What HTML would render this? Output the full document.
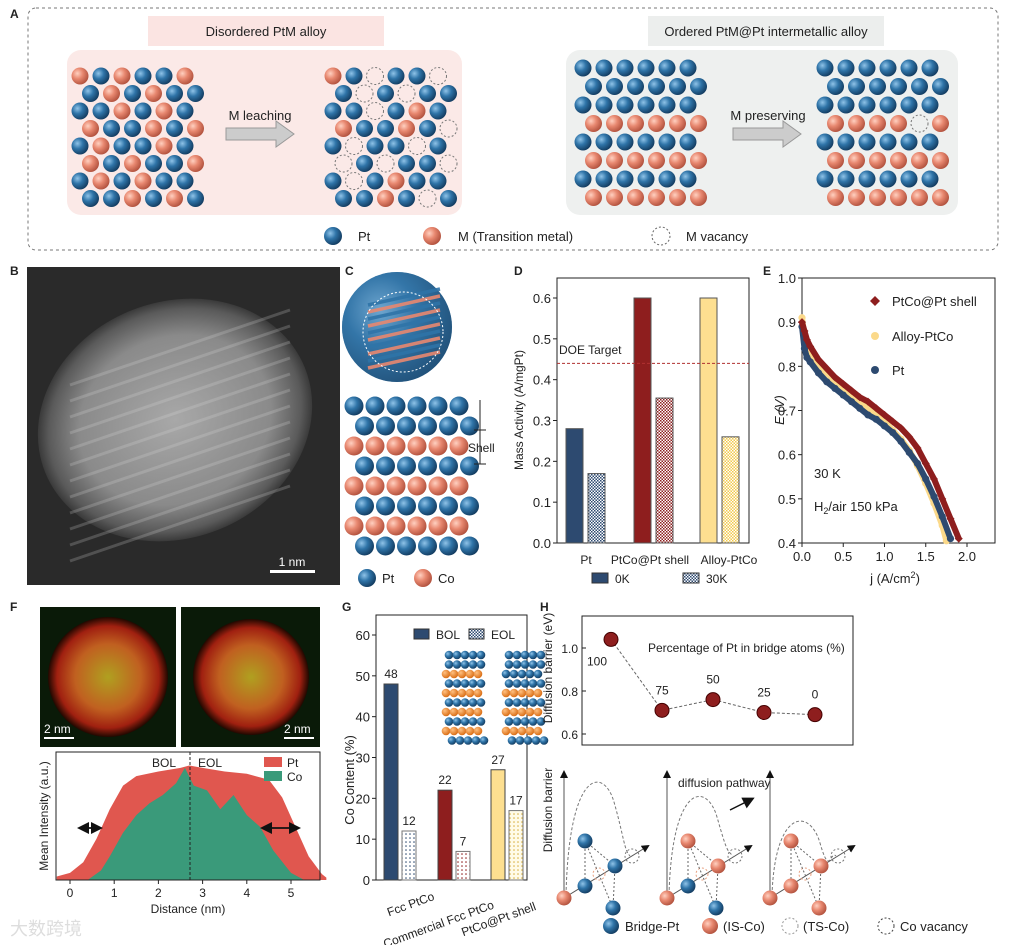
<!DOCTYPE html>
<html><head><meta charset="utf-8">
<style>
body{margin:0;background:#fff;}
svg{display:block;font-family:"Liberation Sans",Arial,sans-serif;}
text{fill:#222;}
</style></head>
<body>
<svg id="fig" width="1018" height="945" viewBox="0 0 1018 945" xmlns="http://www.w3.org/2000/svg">
<defs>
<radialGradient id="gb" cx="35%" cy="35%" r="70%"><stop offset="0" stop-color="#8fc3e8"/><stop offset="0.45" stop-color="#2f74a8"/><stop offset="1" stop-color="#123a5e"/></radialGradient>
<radialGradient id="gs" cx="35%" cy="35%" r="70%"><stop offset="0" stop-color="#ffd0c0"/><stop offset="0.45" stop-color="#e88870"/><stop offset="1" stop-color="#b0503c"/></radialGradient>
<radialGradient id="go" cx="35%" cy="35%" r="70%"><stop offset="0" stop-color="#ffc080"/><stop offset="1" stop-color="#d86a10"/></radialGradient>
<radialGradient id="haadf" cx="50%" cy="50%" r="50%"><stop offset="0" stop-color="#a8a8a8"/><stop offset="0.7" stop-color="#8a8a8a"/><stop offset="0.92" stop-color="#5a5a5a"/><stop offset="1" stop-color="#3a3a3a"/></radialGradient>
<radialGradient id="eds" cx="50%" cy="50%" r="50%"><stop offset="0" stop-color="#b0a020"/><stop offset="0.55" stop-color="#c06020"/><stop offset="0.85" stop-color="#a02010"/><stop offset="1" stop-color="#200800"/></radialGradient>
<pattern id="hatchBlue" width="3" height="3" patternUnits="userSpaceOnUse"><rect width="3" height="3" fill="#fff"/><rect width="1.5" height="1.5" fill="#2d4a70"/><rect x="1.5" y="1.5" width="1.5" height="1.5" fill="#2d4a70"/></pattern>
<pattern id="hatchRed" width="3" height="3" patternUnits="userSpaceOnUse"><rect width="3" height="3" fill="#fff"/><rect width="1.5" height="1.5" fill="#8e1e1e"/><rect x="1.5" y="1.5" width="1.5" height="1.5" fill="#8e1e1e"/></pattern>
<pattern id="hatchYel" width="3" height="3" patternUnits="userSpaceOnUse"><rect width="3" height="3" fill="#fff"/><rect width="1.5" height="1.5" fill="#f2c94c"/><rect x="1.5" y="1.5" width="1.5" height="1.5" fill="#f2c94c"/></pattern>
<pattern id="dotBlue" width="4" height="4" patternUnits="userSpaceOnUse"><rect width="4" height="4" fill="#fff"/><circle cx="2" cy="2" r="0.8" fill="#2d4a70"/></pattern>
<pattern id="dotRed" width="4" height="4" patternUnits="userSpaceOnUse"><rect width="4" height="4" fill="#fff"/><circle cx="2" cy="2" r="0.8" fill="#8e1e1e"/></pattern>
<pattern id="dotYel" width="4" height="4" patternUnits="userSpaceOnUse"><rect width="4" height="4" fill="#fffbe8"/><circle cx="2" cy="2" r="0.8" fill="#d8b040"/></pattern>
<marker id="arr" markerWidth="8" markerHeight="8" refX="6" refY="4" orient="auto"><path d="M0,0 L8,4 L0,8z" fill="#111"/></marker>
</defs>

<!-- Panel A -->
<g>
<text x="10" y="18" font-size="12" font-weight="bold">A</text>
<rect x="28" y="8" width="970" height="242" rx="8" fill="none" stroke="#777" stroke-dasharray="3,3"/>
<rect x="67" y="50" width="395" height="165" rx="14" fill="#fbe9e7"/>
<rect x="148" y="16" width="236" height="30" fill="#fbe4e2"/>
<text x="266" y="36" font-size="13" text-anchor="middle">Disordered PtM alloy</text>
<rect x="566" y="50" width="392" height="165" rx="14" fill="#eef0ef"/>
<rect x="648" y="16" width="236" height="30" fill="#eceeed"/>
<text x="766" y="36" font-size="13" text-anchor="middle">Ordered  PtM@Pt intermetallic alloy</text>
<g id="latA"></g>
<path d="M226,128 h50 v-7 l18,13 l-18,13 v-7 h-50z" fill="#ccc" stroke="#999"/>
<text x="260" y="120" font-size="13" text-anchor="middle">M leaching</text>
<path d="M733,128 h50 v-7 l18,13 l-18,13 v-7 h-50z" fill="#ccc" stroke="#999"/>
<text x="768" y="120" font-size="13" text-anchor="middle">M preserving</text>
<circle cx="333" cy="236" r="9" fill="url(#gb)"/>
<text x="358" y="241" font-size="13">Pt</text>
<circle cx="432" cy="236" r="9" fill="url(#gs)"/>
<text x="458" y="241" font-size="13">M (Transition metal)</text>
<circle cx="661" cy="236" r="9" fill="none" stroke="#666" stroke-dasharray="2,2"/>
<text x="686" y="241" font-size="13">M vacancy</text>
</g>

<!-- Panel B -->
<g>
<text x="10" y="275" font-size="12" font-weight="bold">B</text>
<rect x="27" y="267" width="313" height="318" fill="#2a2a2a"/>
<ellipse cx="175" cy="420" rx="140" ry="118" transform="rotate(-22 175 420)" fill="url(#haadf)"/>
<g id="fringes" stroke="#dcdcdc" stroke-width="3" opacity="0.22"></g>
<rect x="270" y="570" width="45" height="3" fill="#fff"/>
<text x="292" y="566" font-size="12" text-anchor="middle" style="fill:#fff">1 nm</text>
</g>

<!-- Panel C -->
<g>
<text x="345" y="275" font-size="12" font-weight="bold">C</text>
<circle cx="397" cy="327" r="55" fill="#3a78a8"/>
<circle cx="397" cy="327" r="55" fill="url(#gb)" opacity="0.6"/>
<g id="coreStripes"></g>
<circle cx="403" cy="332" r="40" fill="none" stroke="#fff" stroke-dasharray="2,2"/>
<g id="latC"></g>
<line x1="480" y1="400" x2="480" y2="464" stroke="#222"/>
<line x1="474" y1="430" x2="486" y2="430" stroke="#222"/><line x1="474" y1="464" x2="486" y2="464" stroke="#222"/>
<text x="468" y="452" font-size="12">Shell</text>
<circle cx="367" cy="578" r="9" fill="url(#gb)"/>
<text x="382" y="583" font-size="13">Pt</text>
<circle cx="423" cy="578" r="9" fill="url(#gs)"/>
<text x="438" y="583" font-size="13">Co</text>
</g>

<g id="pd">
<text x="514" y="275" font-size="12" font-weight="bold">D</text>
</g>
<g id="pe">
<text x="763" y="275" font-size="12" font-weight="bold">E</text>
</g>

<g id="pf">
<text x="10" y="611" font-size="12" font-weight="bold">F</text>
<rect x="40" y="607" width="136" height="140" fill="#0a1a08"/>
<circle cx="108" cy="677" r="60" fill="url(#eds)"/>
<rect x="181" y="607" width="139" height="140" fill="#0a1a08"/>
<circle cx="251" cy="677" r="58" fill="url(#eds)"/>
<rect x="44" y="737" width="30" height="2" fill="#fff"/><text x="44" y="733" font-size="12" style="fill:#fff">2 nm</text>
<rect x="284" y="737" width="30" height="2" fill="#fff"/><text x="284" y="733" font-size="12" style="fill:#fff">2 nm</text>
</g>

<g id="pg">
<text x="342" y="611" font-size="12" font-weight="bold">G</text>
</g>

<g id="ph">
<text x="540" y="611" font-size="12" font-weight="bold">H</text>
</g>
<text x="10" y="935" font-size="18" style="fill:#ddd">大数跨境</text>
</svg>

<script>
const NS="http://www.w3.org/2000/svg";
function mk(parent,tag,attrs,txt){const e=document.createElementNS(NS,tag);for(const k in attrs)e.setAttribute(k,attrs[k]);if(txt!==undefined)e.textContent=txt;parent.appendChild(e);return e;}

// ---------- Panel D data ----------
const dCats=["Pt","PtCo@Pt shell","Alloy-PtCo"];
const d0K=[0.28,0.60,0.60];
const d30K=[0.17,0.355,0.26];
const dTicks=[0.0,0.1,0.2,0.3,0.4,0.5,0.6];
const dDOE=0.44;
// ---------- Panel E data ----------
const eTicksX=[0.0,0.5,1.0,1.5,2.0];
const eTicksY=[0.4,0.5,0.6,0.7,0.8,0.9,1.0];
const eShellJ=[0,0.03,0.06,0.1,0.2,0.3,0.4,0.5,0.6,0.7,0.8,0.9,1.0,1.1,1.2,1.3,1.4,1.5,1.6,1.7,1.8,1.9];
const eShellE=[0.90,0.88,0.86,0.845,0.815,0.795,0.775,0.76,0.745,0.73,0.72,0.705,0.69,0.675,0.66,0.64,0.615,0.58,0.545,0.5,0.455,0.41];
const eAlloyJ=[0,0.03,0.06,0.1,0.2,0.3,0.4,0.5,0.6,0.7,0.8,0.9,1.0,1.1,1.2,1.3,1.4,1.5,1.6,1.7,1.75];
const eAlloyE=[0.91,0.87,0.845,0.83,0.8,0.785,0.765,0.75,0.735,0.72,0.705,0.69,0.675,0.655,0.635,0.61,0.575,0.535,0.49,0.44,0.405];
const ePtJ=[0,0.03,0.06,0.1,0.2,0.3,0.4,0.5,0.6,0.7,0.8,0.9,1.0,1.1,1.2,1.3,1.4,1.5,1.6,1.7,1.8];
const ePtE=[0.89,0.84,0.82,0.81,0.785,0.765,0.75,0.735,0.72,0.705,0.69,0.68,0.665,0.65,0.63,0.605,0.58,0.545,0.505,0.46,0.41];
// ---------- Panel F data ----------
const fTicks=[0,1,2,3,4,5];
const fPtX=[-0.3,0,0.3,0.6,0.9,1.2,1.5,2.0,2.5,2.7,3.0,3.5,4.0,4.5,4.8,5.1,5.4,5.7,5.8];
const fPtY=[0.03,0.06,0.15,0.35,0.6,0.8,0.88,0.92,0.95,0.97,0.95,0.92,0.9,0.85,0.7,0.45,0.2,0.05,0.02];
const fCoX=[0.4,0.7,0.9,1.2,1.5,1.8,2.1,2.4,2.6,2.8,3.1,3.4,3.7,4.0,4.3,4.6,5.0,5.3];
const fCoY=[0.0,0.08,0.2,0.4,0.55,0.65,0.72,0.82,0.95,0.8,0.76,0.6,0.72,0.55,0.45,0.25,0.06,0.0];
// ---------- Panel G data ----------
const gCats=["Fcc PtCo","Commercial Fcc PtCo","PtCo@Pt shell"];
const gBOL=[48,22,27];
const gEOL=[12,7,17];
const gTicks=[0,10,20,30,40,50,60];
// ---------- Panel H data ----------
const hPct=["100","75","50","25","0"];
const hBarrier=[1.04,0.71,0.76,0.70,0.69];
const hTicks=[0.6,0.8,1.0];

// ---------- Panel A lattices ----------
const latA=document.getElementById('latA');
function lattice(g,x0,y0,cols,rows,dx,dy,colorFn,r){
  for(let i=0;i<rows;i++)for(let j=0;j<cols;j++){
    const x=x0+j*dx+(i%2?dx/2:0),y=y0+i*dy;const c=colorFn(i,j);
    if(c==='v'){mk(g,'circle',{cx:x,cy:y,r:r,fill:'none',stroke:'#777','stroke-dasharray':'2,2'});}
    else mk(g,'circle',{cx:x,cy:y,r:r,fill:c==='b'?'url(#gb)':'url(#gs)'});
  }
}
const dis=(i,j)=>((i*7+j*3)%5<2)?'s':'b';
lattice(latA,80,76,6,8,21,17.5,dis,8.5);
lattice(latA,333,76,6,8,21,17.5,(i,j)=>{const c=dis(i,j);return c==='s'&&((i+j)%3!==0)?'v':c;},8.5);
const ordF=(i,j)=>(i<2?'b':(i%2?'s':'b'));
lattice(latA,583,68,6,8,21,18.5,ordF,8.5);
lattice(latA,825,68,6,8,21,18.5,(i,j)=>(i===3&&j===4)?'v':ordF(i,j),8.5);

// Panel B fringes
const fr=document.getElementById('fringes');
for(let k=0;k<12;k++){const y=355+k*16;mk(fr,'line',{x1:70,y1:y+30,x2:290,y2:y-45});}

// Panel C
const cs=document.getElementById('coreStripes');
for(let k=0;k<10;k++){const y=297+k*7;mk(cs,'line',{x1:368,y1:y+8,x2:440,y2:y-8,stroke:k%2?'#e88870':'#2f74a8','stroke-width':3.5,opacity:0.9});}
lattice(document.getElementById('latC'),354,406,6,8,21,20,(i,j)=>(i<2?'b':(i%2?'b':'s')),9.5);

// ---------- Panel D chart ----------
const pd=document.getElementById('pd');
const dL=557,dR=749,dT=278,dB=543,dMax=0.649;
const dy=v=>dB-(v/dMax)*(dB-dT);
mk(pd,'rect',{x:dL,y:dT,width:dR-dL,height:dB-dT,fill:'none',stroke:'#222'});
dTicks.forEach(t=>{mk(pd,'line',{x1:dL-4,x2:dL,y1:dy(t),y2:dy(t),stroke:'#222'});mk(pd,'text',{x:dL-6,y:dy(t)+5,'font-size':13,'text-anchor':'end'},t.toFixed(1));});
const dGroupX=[566,634,700];
const f0=['#2d4a70','#8e1e1e','#fddf90'],f3=['url(#hatchBlue)','url(#hatchRed)','url(#hatchYel)'];
dCats.forEach((c,i)=>{
  const b1=mk(pd,'rect',{x:dGroupX[i],y:dy(d0K[i]),width:17,height:dB-dy(d0K[i]),fill:f0[i],stroke:'#555'});
  
  const b2=mk(pd,'rect',{x:dGroupX[i]+22,y:dy(d30K[i]),width:17,height:dB-dy(d30K[i]),fill:f3[i],stroke:'#555'});
  
});
mk(pd,'text',{x:586,y:564,'font-size':12,'text-anchor':'middle'},dCats[0]);
mk(pd,'text',{x:650,y:564,'font-size':12,'text-anchor':'middle'},dCats[1]);
mk(pd,'text',{x:729,y:564,'font-size':12,'text-anchor':'middle'},dCats[2]);
mk(pd,'line',{x1:dL,x2:dR,y1:dy(dDOE),y2:dy(dDOE),stroke:'#b03030','stroke-dasharray':'3,2'});
mk(pd,'text',{x:559,y:354,'font-size':12},'DOE Target');
mk(pd,'text',{x:523,y:410,'font-size':12,'text-anchor':'middle',transform:'rotate(-90 523 410)'},'Mass Activity (A/mgPt)');
mk(pd,'rect',{x:592,y:573,width:16,height:10,fill:'#2d4a70',stroke:'#333'});mk(pd,'text',{x:615,y:583,'font-size':12},'0K');
mk(pd,'rect',{x:683,y:573,width:16,height:10,fill:'url(#hatchBlue)',stroke:'#333'});mk(pd,'text',{x:706,y:583,'font-size':12},'30K');

// ---------- Panel E chart ----------
const pe=document.getElementById('pe');
const eL=802,eR=995,eT=278,eB=543;
const ex=v=>eL+v*82.5, ey=v=>eB-(v-0.4)/0.6*(eB-eT);
mk(pe,'rect',{x:eL,y:eT,width:eR-eL,height:eB-eT,fill:'none',stroke:'#222'});
eTicksX.forEach(t=>{mk(pe,'line',{x1:ex(t),x2:ex(t),y1:eB,y2:eB+4,stroke:'#222'});mk(pe,'text',{x:ex(t),y:eB+18,'font-size':13,'text-anchor':'middle'},t.toFixed(1));});
eTicksY.forEach(t=>{mk(pe,'line',{x1:eL-4,x2:eL,y1:ey(t),y2:ey(t),stroke:'#222'});mk(pe,'text',{x:eL-6,y:ey(t)+5,'font-size':13,'text-anchor':'end'},t.toFixed(1));});
function series(J,E,col,name,diamond){
  const pts=J.map((j,i)=>ex(j)+','+ey(E[i])).join(' ');
  const pl=mk(pe,'polyline',{points:pts,fill:'none',stroke:col,'stroke-width':6,'stroke-linejoin':'round'});
  
  J.forEach((j,i)=>{const x=ex(j),y=ey(E[i]);
    if(diamond)mk(pe,'path',{d:`M${x},${y-4}L${x+4},${y}L${x},${y+4}L${x-4},${y}z`,fill:col});
    else mk(pe,'circle',{cx:x,cy:y,r:3.6,fill:col});});
}
series(eAlloyJ,eAlloyE,'#fbd98a','alloy-ptco',false);
series(ePtJ,ePtE,'#2d4a70','pt',false);
series(eShellJ,eShellE,'#8e1e1e','ptco-shell',true);
mk(pe,'path',{d:'M875,296L880,301L875,306L870,301z',fill:'#8e1e1e'});mk(pe,'text',{x:892,y:306,'font-size':13},'PtCo@Pt shell');
mk(pe,'circle',{cx:875,cy:336,r:4,fill:'#fbd98a'});mk(pe,'text',{x:892,y:341,'font-size':13},'Alloy-PtCo');
mk(pe,'circle',{cx:875,cy:370,r:4,fill:'#2d4a70'});mk(pe,'text',{x:892,y:375,'font-size':13},'Pt');
mk(pe,'text',{x:814,y:478,'font-size':13},'30 K');
const h2=mk(pe,'text',{x:814,y:511,'font-size':13});h2.innerHTML='H<tspan font-size="9" dy="3">2</tspan><tspan dy="-3">/air 150 kPa</tspan>';
mk(pe,'text',{x:784,y:410,'font-size':13,'text-anchor':'middle','font-style':'italic',transform:'rotate(-90 784 410)'},'E (V)');
const jl=mk(pe,'text',{x:895,y:583,'font-size':13,'text-anchor':'middle'});jl.innerHTML='j (A/cm<tspan font-size="9" dy="-5">2</tspan><tspan dy="5">)</tspan>';

// ---------- Panel F chart ----------
const pf=document.getElementById('pf');
const fL=56,fR=320,fT=752,fB=880;
const fx=v=>70+v*44.2, fy=v=>fB-v*118;
mk(pf,'rect',{x:fL,y:fT,width:fR-fL,height:fB-fT,fill:'#fff',stroke:'#222'});
function area(X,Y,col,name){let d=`M${fx(X[0])},${fB}`;X.forEach((x,i)=>d+=`L${fx(x)},${fy(Y[i])}`);d+=`L${fx(X[X.length-1])},${fB}z`;
  const p=mk(pf,'path',{d:d,fill:col});}
area(fPtX,fPtY,'#e0574f','pt-profile');area(fCoX,fCoY,'#3a9a7a','co-profile');
mk(pf,'rect',{x:fL,y:fT,width:fR-fL,height:fB-fT,fill:'none',stroke:'#222'});
fTicks.forEach(t=>{mk(pf,'line',{x1:fx(t),x2:fx(t),y1:fB,y2:fB+4,stroke:'#222'});mk(pf,'text',{x:fx(t),y:fB+17,'font-size':12,'text-anchor':'middle'},t);});
mk(pf,'line',{x1:190,x2:190,y1:fT,y2:fB,stroke:'#222','stroke-dasharray':'3,2'});
mk(pf,'text',{x:152,y:767,'font-size':12},'BOL');mk(pf,'text',{x:198,y:767,'font-size':12},'EOL');
mk(pf,'rect',{x:264,y:757,width:18,height:10,fill:'#e0574f'});mk(pf,'text',{x:287,y:767,'font-size':12},'Pt');
mk(pf,'rect',{x:264,y:771,width:18,height:10,fill:'#3a9a7a'});mk(pf,'text',{x:287,y:781,'font-size':12},'Co');
mk(pf,'line',{x1:80,x2:100,y1:828,y2:828,stroke:'#111','stroke-width':1.5,'marker-end':'url(#arr)'});
mk(pf,'line',{x1:100,x2:80,y1:828,y2:828,stroke:'#111','stroke-width':1.5,'marker-end':'url(#arr)'});
mk(pf,'line',{x1:263,x2:298,y1:828,y2:828,stroke:'#111','stroke-width':1.5,'marker-end':'url(#arr)'});
mk(pf,'line',{x1:298,x2:263,y1:828,y2:828,stroke:'#111','stroke-width':1.5,'marker-end':'url(#arr)'});
mk(pf,'text',{x:48,y:816,'font-size':12,'text-anchor':'middle',transform:'rotate(-90 48 816)'},'Mean Intensity (a.u.)');
mk(pf,'text',{x:188,y:913,'font-size':12,'text-anchor':'middle'},'Distance (nm)');

// ---------- Panel G chart ----------
const pg=document.getElementById('pg');
const gL=376,gR=527,gT=615,gB=880;
const gy=v=>gB-v*(gB-635)/60;
mk(pg,'rect',{x:gL,y:gT,width:gR-gL,height:gB-gT,fill:'none',stroke:'#222'});
gTicks.forEach(t=>{mk(pg,'line',{x1:gL-4,x2:gL,y1:gy(t),y2:gy(t),stroke:'#222'});mk(pg,'text',{x:gL-6,y:gy(t)+5,'font-size':13,'text-anchor':'end'},t);});
const gX=[384,438,491],gf=['#2d4a70','#8e1e1e','#fddf90'],gd=['url(#dotBlue)','url(#dotRed)','url(#dotYel)'];
gCats.forEach((c,i)=>{
  const a=mk(pg,'rect',{x:gX[i],y:gy(gBOL[i]),width:14,height:gB-gy(gBOL[i]),fill:gf[i],stroke:'#444'});
  
  mk(pg,'text',{x:gX[i]+7,y:gy(gBOL[i])-6,'font-size':12,'text-anchor':'middle'},gBOL[i]);
  const b=mk(pg,'rect',{x:gX[i]+18,y:gy(gEOL[i]),width:14,height:gB-gy(gEOL[i]),fill:gd[i],stroke:'#777'});
  
  mk(pg,'text',{x:gX[i]+25,y:gy(gEOL[i])-6,'font-size':12,'text-anchor':'middle'},gEOL[i]);
});
mk(pg,'text',{x:412,y:908,'font-size':12,'text-anchor':'middle',transform:'rotate(-20 412 908)'},gCats[0]);
mk(pg,'text',{x:440,y:928,'font-size':12,'text-anchor':'middle',transform:'rotate(-20 440 928)'},gCats[1]);
mk(pg,'text',{x:500,y:923,'font-size':12,'text-anchor':'middle',transform:'rotate(-20 500 923)'},gCats[2]);
mk(pg,'text',{x:354,y:780,'font-size':13,'text-anchor':'middle',transform:'rotate(-90 354 780)'},'Co Content  (%)');
mk(pg,'rect',{x:414,y:629,width:15,height:10,fill:'#2d4a70',stroke:'#333'});mk(pg,'text',{x:436,y:639,'font-size':12},'BOL');
mk(pg,'rect',{x:469,y:629,width:15,height:10,fill:'url(#hatchBlue)',stroke:'#333'});mk(pg,'text',{x:491,y:639,'font-size':12},'EOL');
[[446,655],[506,655]].forEach(([x0,y0],k)=>{for(let r=0;r<10;r++)for(let c=0;c<5;c++){
  const isCo=k===0?(r>=2&&r%2===0):(r>=4&&r%2===0);
  mk(pg,'circle',{cx:x0+c*8+(r%2)*3-(r<1||r>8?-3:0),cy:y0+r*9.5,r:4.3,fill:isCo?'url(#go)':'url(#gb)'});}});

// ---------- Panel H chart ----------
const ph=document.getElementById('ph');
const hL=582,hR=853,hT=616,hB=745;
const hx=i=>611+i*51, hy=v=>734-(v-0.6)*215;
mk(ph,'rect',{x:hL,y:hT,width:hR-hL,height:hB-hT,fill:'none',stroke:'#222'});
hTicks.forEach(t=>{mk(ph,'line',{x1:hL,x2:hL+4,y1:hy(t),y2:hy(t),stroke:'#222'});mk(ph,'text',{x:hL-4,y:hy(t)+5,'font-size':12,'text-anchor':'end'},t.toFixed(1));});
const hpts=hBarrier.map((v,i)=>hx(i)+','+hy(v)).join(' ');
mk(ph,'polyline',{points:hpts,fill:'none',stroke:'#666','stroke-dasharray':'3,2'});
hBarrier.forEach((v,i)=>{const c=mk(ph,'circle',{cx:hx(i),cy:hy(v),r:7,fill:'#8e1e1e',stroke:'#400'});
  
  mk(ph,'text',{x:i===0?hx(i)-14:hx(i),y:i===0?hy(v)+26:hy(v)-16,'font-size':12,'text-anchor':'middle'},hPct[i]);});
mk(ph,'text',{x:648,y:652,'font-size':12},'Percentage of Pt in bridge atoms (%)');
mk(ph,'text',{x:552,y:668,'font-size':12,'text-anchor':'middle',transform:'rotate(-90 552 668)'},'Diffusion barrier (eV)');
mk(ph,'text',{x:552,y:810,'font-size':12,'text-anchor':'middle',transform:'rotate(-90 552 810)'},'Diffusion barrier');
mk(ph,'line',{x1:730,y1:810,x2:752,y2:799,stroke:'#111','stroke-width':1.5,'marker-end':'url(#arr)'});
mk(ph,'text',{x:678,y:787,'font-size':12},'diffusion pathway');
const diagX=[564,667,770];
const peaks=[787,802,828];
const bridges=[['b','b','b','b'],['s','s','b','b'],['s','s','s','s']];
diagX.forEach((x0,k)=>{
  mk(ph,'line',{x1:x0,y1:895,x2:x0,y2:772,stroke:'#555','marker-end':'url(#arr)'});
  mk(ph,'line',{x1:x0,y1:898,x2:x0+84,y2:846,stroke:'#555','marker-end':'url(#arr)'});
  const pk=peaks[k];
  mk(ph,'path',{d:`M${x0+2},895 C${x0+5},${pk-20} ${x0+40},${pk-20} ${x0+50},${pk+15} S${x0+60},850 ${x0+66},856`,fill:'none',stroke:'#777','stroke-dasharray':'3,2'});
  mk(ph,'circle',{cx:x0+68,cy:856,r:7,fill:'none',stroke:'#777','stroke-dasharray':'2,2'});
  mk(ph,'circle',{cx:x0+35,cy:874,r:6,fill:'none',stroke:'#e8a080','stroke-dasharray':'2,2'});
  const pos=[[x0+21,841],[x0+51,866],[x0+21,886],[x0+49,908]];
  pos.forEach(p=>mk(ph,'line',{x1:x0+21,y1:841,x2:p[0],y2:p[1],stroke:'#666','stroke-dasharray':'2,2'}));
  mk(ph,'line',{x1:x0+51,y1:866,x2:x0+49,y2:908,stroke:'#666','stroke-dasharray':'2,2'});
  mk(ph,'circle',{cx:x0,cy:898,r:7.5,fill:'url(#gs)'});
  pos.forEach((p,i)=>mk(ph,'circle',{cx:p[0],cy:p[1],r:7.5,fill:bridges[k][i]==='b'?'url(#gb)':'url(#gs)'}));
});
mk(ph,'circle',{cx:611,cy:926,r:8,fill:'url(#gb)'});mk(ph,'text',{x:625,y:931,'font-size':13},'Bridge-Pt');
mk(ph,'circle',{cx:710,cy:926,r:8,fill:'url(#gs)'});mk(ph,'text',{x:723,y:931,'font-size':13},'(IS-Co)');
mk(ph,'circle',{cx:790,cy:926,r:8,fill:'none',stroke:'#999','stroke-dasharray':'2,2'});mk(ph,'text',{x:803,y:931,'font-size':13},'(TS-Co)');
mk(ph,'circle',{cx:886,cy:926,r:8,fill:'none',stroke:'#444','stroke-dasharray':'2,2'});mk(ph,'text',{x:900,y:931,'font-size':13},'Co vacancy');
</script>
</body></html>
